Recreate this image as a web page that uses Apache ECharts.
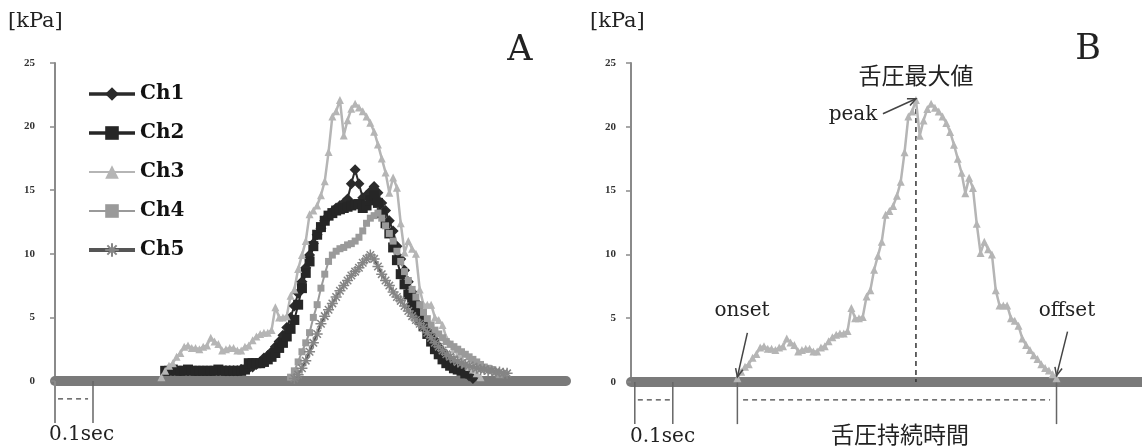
<!DOCTYPE html>
<html><head><meta charset="utf-8">
<script src="https://cdn.jsdelivr.net/npm/echarts@6/dist/echarts.min.js"></script>
<style>html,body{margin:0;padding:0;background:#fff}#c{width:1142px;height:448px}</style>
</head><body><div id="c"></div>
<script>
// ---- data (x = sample index, 10 ms per sample; y = kPa) ----
const channels = ['Ch1', 'Ch2', 'Ch3', 'Ch4', 'Ch5'];

const ch1Start = 45;
const ch1 = [0.8,0.8,0.8,0.8,0.9,
  0.9,1.0,1.1,1.3,1.5,1.8,2.0,2.3,2.7,3.1,
  3.6,4.2,5.0,5.9,6.9,7.8,8.9,9.9,10.8,11.5,
  12.0,12.6,13.0,13.3,13.6,13.8,14.0,14.3,15.5,16.6,
  15.5,14.4,14.6,14.9,15.3,14.8,14.0,13.4,12.6,11.8,
  10.6,9.6,8.7,7.8,7.0,6.2,5.5,4.9,4.3,3.7,
  3.2,2.7,2.3,1.9,1.6,1.3,1.0,0.8,0.6,0.4,
  0.2];

const ch2Start = 29;
const ch2 = [0.8,0.8,0.9,0.8,0.8,0.8,0.9,0.8,0.8,0.8,0.8,
  0.8,0.8,0.8,0.9,0.8,0.8,0.8,0.8,0.8,0.8,0.9,
  1.4,1.4,1.4,1.4,1.5,1.7,1.9,2.2,2.6,3.0,
  3.5,4.1,4.8,6.0,7.3,8.5,9.4,10.6,11.5,12.1,
  12.6,13.0,13.2,13.4,13.5,13.6,13.7,13.8,13.9,13.9,
  13.6,13.8,14.2,14.6,14.0,13.2,12.4,11.6,10.5,9.5,
  8.4,7.6,6.8,6.1,5.4,4.8,4.3,3.7,3.1,2.5,
  2.1,1.7,1.4,1.2,1.0,0.9,0.8,0.6];

const ch3Start = 28;
const ch3 = [0.3,0.8,1.2,1.4,1.9,2.2,2.7,2.8,2.6,2.6,
  2.5,2.7,2.8,3.4,3.1,2.9,2.4,2.5,2.6,2.6,
  2.4,2.4,2.7,2.8,3.2,3.5,3.7,3.8,3.8,4.0,
  5.8,5.0,5.0,5.1,6.7,7.2,8.8,9.9,11.0,13.1,
  13.4,13.8,14.6,15.7,18.0,20.8,21.2,22.1,19.3,20.5,
  21.4,21.8,21.5,21.2,20.8,20.3,19.6,18.6,17.5,16.4,
  14.8,16.0,15.2,12.4,10.1,11.0,10.4,10.0,7.2,6.0,
  6.0,6.0,5.0,4.8,4.4,3.4,2.9,2.5,2.1,1.8,
  1.4,1.1,0.9,0.6,0.3];

const ch4Start = 62;
const ch4 = [0.3,0.8,1.5,2.3,3.0,3.8,5.0,6.0,7.3,8.4,
  9.4,9.9,10.2,10.4,10.5,10.7,10.8,11.0,11.3,11.8,
  12.4,12.8,13.0,13.2,12.8,12.2,11.6,11.0,10.2,9.4,
  8.6,7.9,7.2,6.6,6.0,5.4,4.9,4.4,4.0,3.7,
  3.4,3.1,2.9,2.7,2.5,2.3,2.1,1.9,1.7,1.5,
  1.3,1.1,1.0,0.9,0.7,0.5];

const ch5Start = 63;
const ch5 = [0.2,0.5,1.0,1.6,2.3,3.0,3.7,4.5,5.1,5.6,
  6.1,6.6,7.1,7.5,7.9,8.3,8.6,8.9,9.3,9.6,
  9.9,9.6,9.0,8.4,7.9,7.5,7.0,6.6,6.3,5.9,
  5.5,5.1,4.8,4.5,4.2,3.8,3.4,3.0,2.7,2.4,
  2.1,1.9,1.7,1.5,1.4,1.3,1.2,1.1,1.0,0.9,
  0.9,0.8,0.8,0.7,0.7,0.6,0.6];

const yTicks = [0, 5, 10, 15, 20, 25];

// annotation positions (in samples)
const secTicksA = [0, 10];
const secTicksB = [1, 11];
const onsetT = 28, offsetT = 112, peakT = 75, peakV = 22.1;

// ---- chart ----
function pairs(start, vals) { return vals.map((v, i) => [start + i, v]); }
const SERIF = 'DejaVu Serif';
const X_MAX = 134.5;
const BELOW = -3.3, DASH_Y = -1.4;

const chart = echarts.init(document.getElementById('c'));

function yAxisOpt(gi, margin) {
  return { gridIndex: gi, type: 'value', min: yTicks[0], max: yTicks[yTicks.length - 1], interval: 5,
    axisLine: { show: true, lineStyle: { color: '#8a8a8a', width: 2 } },
    axisTick: { show: true, length: 5, lineStyle: { color: '#8a8a8a', width: 1.5 } },
    axisLabel: { margin: margin, fontFamily: 'Liberation Serif', fontWeight: 'bold', fontSize: 11, color: '#333' },
    splitLine: { show: false } };
}
function xAxisOpt(gi) {
  return { gridIndex: gi, type: 'value', min: 0, max: X_MAX,
    axisLine: { show: true, onZero: true, lineStyle: { color: '#7a7a7a', width: 10, cap: 'round' } },
    axisTick: { show: false }, axisLabel: { show: false }, splitLine: { show: false } };
}
function seg(gi, pts, color, width, dashed) {
  return { type: 'line', xAxisIndex: gi, yAxisIndex: gi, data: pts, symbol: 'none', silent: true,
    clip: false, z: 1, lineStyle: { color: color, width: width, type: dashed ? [5, 4] : 'solid' } };
}
const ASTER = 'path://M5 0L5 10M0 5L10 5M1.6 1.6L8.4 8.4M1.6 8.4L8.4 1.6';

const ch3Style = { symbol: 'triangle', symbolSize: 8, lineStyle: { color: '#b5b5b5', width: 2.5 }, itemStyle: { color: '#b5b5b5' } };

const series = [
  { name: 'Ch1', type: 'line', xAxisIndex: 0, yAxisIndex: 0, data: pairs(ch1Start, ch1),
    symbol: 'diamond', symbolSize: 11, lineStyle: { color: '#2b2b2b', width: 2 }, itemStyle: { color: '#2b2b2b' } },
  { name: 'Ch2', type: 'line', xAxisIndex: 0, yAxisIndex: 0, data: pairs(ch2Start, ch2),
    symbol: 'rect', symbolSize: 10, lineStyle: { color: '#262626', width: 2 }, itemStyle: { color: '#262626' } },
  Object.assign({ name: 'Ch3', type: 'line', xAxisIndex: 0, yAxisIndex: 0, data: pairs(ch3Start, ch3) }, ch3Style),
  { name: 'Ch4', type: 'line', xAxisIndex: 0, yAxisIndex: 0, data: pairs(ch4Start, ch4),
    symbol: 'rect', symbolSize: 7, lineStyle: { color: '#9a9a9a', width: 2 }, itemStyle: { color: '#9a9a9a' } },
  { name: 'Ch5', type: 'line', xAxisIndex: 0, yAxisIndex: 0, data: pairs(ch5Start, ch5),
    symbol: ASTER, symbolSize: 11, lineStyle: { color: '#555', width: 2 },
    itemStyle: { color: '#858585', borderColor: '#858585', borderWidth: 1.5 } },
  Object.assign({ name: 'B-Ch3', type: 'line', xAxisIndex: 1, yAxisIndex: 1, data: pairs(ch3Start, ch3) }, ch3Style),
  // panel A annotations
  seg(0, [[secTicksA[0], 0], [secTicksA[0], BELOW]], '#8a8a8a', 2),
  seg(0, [[secTicksA[1], 0], [secTicksA[1], BELOW]], '#666', 1.5),
  seg(0, [[secTicksA[0] + 0.8, DASH_Y], [secTicksA[1] - 1.3, DASH_Y]], '#444', 1.2, true),
  // panel B annotations
  seg(1, [[secTicksB[0], 0], [secTicksB[0], BELOW]], '#666', 1.5),
  seg(1, [[secTicksB[1], 0], [secTicksB[1], BELOW]], '#666', 1.5),
  seg(1, [[secTicksB[0] + 0.8, DASH_Y], [secTicksB[1] - 0.7, DASH_Y]], '#444', 1.2, true),
  seg(1, [[onsetT, 0], [onsetT, BELOW]], '#666', 1.5),
  seg(1, [[offsetT, 0.5], [offsetT, BELOW]], '#666', 1.5),
  seg(1, [[onsetT + 1.5, DASH_Y], [offsetT - 1.7, DASH_Y]], '#444', 1.2, true),
  seg(1, [[peakT, peakV], [peakT, 0]], '#333', 1.5, true)
];

const thick = { width: 3.5 };
chart.setOption({
  animation: false,
  backgroundColor: '#fff',
  grid: [
    { left: 55, top: 63, width: 511, height: 318 },
    { left: 631, top: 63, width: 511, height: 319 }
  ],
  xAxis: [xAxisOpt(0), xAxisOpt(1)],
  yAxis: [yAxisOpt(0, 20), yAxisOpt(1, 15)],
  legend: {
    data: [
      { name: channels[0], lineStyle: thick },
      { name: channels[1], lineStyle: thick },
      { name: channels[2] },
      { name: channels[3] },
      { name: channels[4], lineStyle: { width: 4 } }
    ],
    orient: 'vertical', left: 87, top: 82, padding: 0, itemWidth: 46, itemHeight: 17, itemGap: 15,
    selectedMode: false,
    textStyle: { fontFamily: SERIF, fontWeight: 'bold', fontSize: 20, color: '#111', lineHeight: 24 }
  },
  series: series
});

function txt(x, y, text, size, family, align, extra) {
  return Object.assign({ type: 'text', x: x, y: y, silent: true, z: 10,
    style: { text: text, fontSize: size, fontFamily: family || SERIF, fill: '#222',
      align: align || 'left', verticalAlign: 'middle' } }, extra || {});
}
function arrow(tip, dx, dy) {
  const from = [tip[0] + dx, tip[1] + dy];
  const ang = Math.atan2(tip[1] - from[1], tip[0] - from[0]);
  const h = 9, sp = 0.42;
  const a1 = [tip[0] - h * Math.cos(ang - sp), tip[1] - h * Math.sin(ang - sp)];
  const a2 = [tip[0] - h * Math.cos(ang + sp), tip[1] - h * Math.sin(ang + sp)];
  const st = { stroke: '#444', lineWidth: 1.5, fill: null };
  return [
    { type: 'polyline', silent: true, z: 10, shape: { points: [from, tip] }, style: st },
    { type: 'polyline', silent: true, z: 10, shape: { points: [a1, tip, a2] }, style: st }
  ];
}
const tipPeak = chart.convertToPixel({ gridIndex: 1 }, [peakT, peakV + 0.1]);
const tipOnset = chart.convertToPixel({ gridIndex: 1 }, [onsetT, 0.4]);
const tipOffset = chart.convertToPixel({ gridIndex: 1 }, [offsetT, 0.5]);

const CJK = 'Noto Sans CJK JP';
const graphics = [
  txt(8, 22, '[kPa]', 21),
  txt(590, 22, '[kPa]', 21),
  txt(520, 51, 'A', 35, SERIF, 'center'),
  txt(1088, 50, 'B', 35, SERIF, 'center'),
  txt(49, 435, '0.1sec', 20),
  txt(630, 437, '0.1sec', 20),
  txt(900, 434, '舌圧持続時間', 23, CJK, 'center'),
  txt(916, 75, '舌圧最大値', 23, CJK, 'center'),
  txt(853, 115, 'peak', 20, SERIF, 'center'),
  txt(742, 311, 'onset', 20, SERIF, 'center'),
  txt(1067, 311, 'offset', 20, SERIF, 'center')
].concat(arrow(tipPeak, -33, 15), arrow(tipOnset, 10, -44), arrow(tipOffset, 11, -44));

chart.setOption({ graphic: graphics });
</script>
</body></html>
